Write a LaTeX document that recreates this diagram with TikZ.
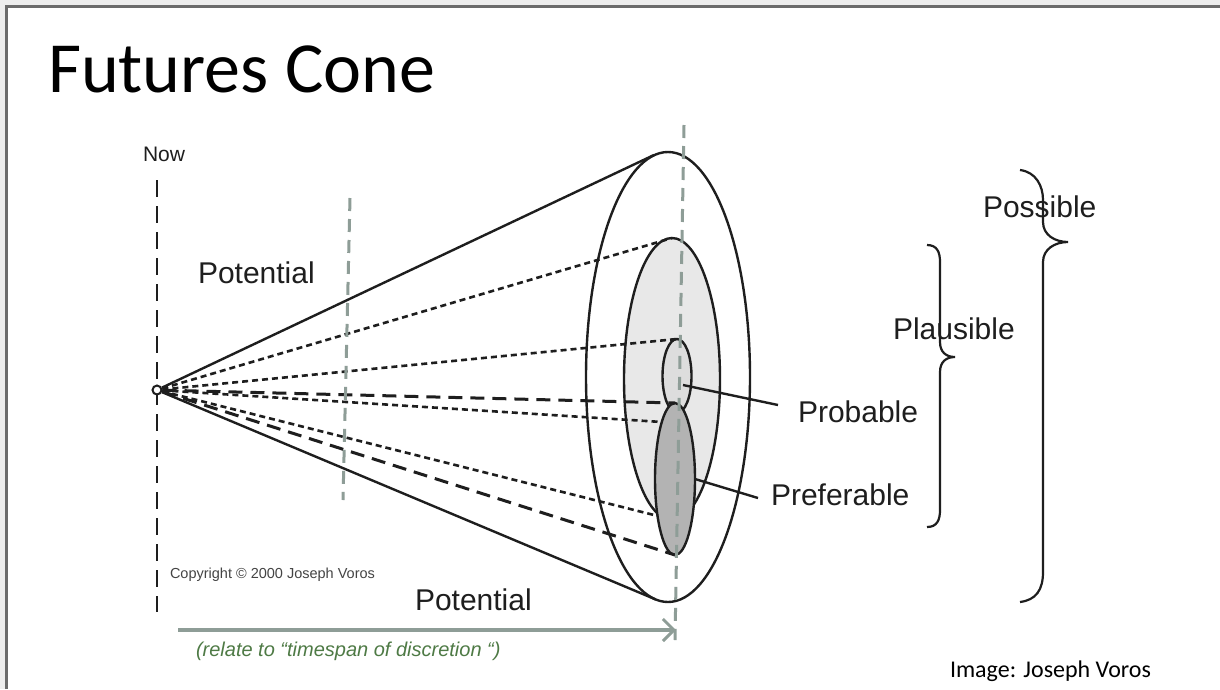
\documentclass[tikz,border=0pt]{standalone}
\usepackage{fontspec}
\setmainfont{Liberation Sans}
\newfontfamily\titlefont{Carlito}
\usetikzlibrary{shapes.geometric,arrows.meta}
\definecolor{frameline}{HTML}{6B6B6B}
\definecolor{outside}{HTML}{EDEDED}
\definecolor{guide}{HTML}{8E9D97}
\definecolor{plausfill}{HTML}{E8E8E8}
\definecolor{probfill}{HTML}{DDDDDD}
\definecolor{preffill}{HTML}{B3B3B3}
\definecolor{notegreen}{HTML}{4E7A45}
\definecolor{ink}{HTML}{1E1E1E}
\definecolor{copyink}{HTML}{444444}
\begin{document}
\begin{tikzpicture}[x=1pt,y=-1pt,
  solidline/.style={draw=ink,line width=2.4pt},
  shortdash/.style={draw=ink,line width=2.6pt,dash pattern=on 6pt off 4pt},
  longdash/.style={draw=ink,line width=3pt,dash pattern=on 14pt off 8pt},
  nowline/.style={draw=ink,line width=2.6pt,dash pattern=on 17pt off 9pt},
  guideline/.style={draw=guide,line width=3pt,dash pattern=on 13pt off 8pt},
  conering/.style={ellipse,draw=ink,line width=2.4pt,inner sep=0pt,outer sep=0pt},
  lbl/.style={inner sep=0pt,outer sep=0pt,anchor=base west,font=\fontsize{30}{36}\selectfont,text=ink},
  bracepath/.style={draw=ink,line width=2.2pt},
]
\useasboundingbox (0,0) rectangle (1220,689);
\fill[outside] (0,0) rectangle (1220,689);
\fill[white] (7,7) rectangle (1220,689);
\draw[frameline,line width=2.5pt] (6.5,689) -- (6.5,6.5) -- (1220,6.5);

% title
\node[anchor=base west,inner sep=0pt,outer sep=0pt] (title) at (48,92) {\titlefont\fontsize{72}{80}\selectfont Futures Cone};

% Now line
\coordinate (nowTop) at (157,180);
\coordinate (nowBot) at (157,612);
\draw[nowline] (nowTop) -- (nowBot);

% ellipses
\node[conering,minimum width=164pt,minimum height=450pt] (outer) at (668,377) {};
\node[conering,fill=plausfill,minimum width=96pt,minimum height=282pt] (plaus) at (672,379) {};
\node[conering,fill=probfill,minimum width=29pt,minimum height=74pt] (prob) at (677,376) {};
\node[conering,fill=preffill,minimum width=40pt,minimum height=152pt] (pref) at (675,479) {};

% apex
\node[circle,draw=ink,fill=white,line width=2pt,minimum size=9pt,inner sep=0pt] (apex) at (157,390) {};

% cone lines
\coordinate (tanTop) at (654,155);
\coordinate (tanBot) at (655.6,599.4);
\coordinate (prefLeft) at (662,422);
\coordinate (prefLow) at (658,516);
\draw[solidline] (apex) -- (tanTop);
\draw[solidline] (apex) -- (tanBot);
\draw[shortdash] (apex) -- (plaus.north);
\draw[shortdash] (apex) -- (prob.north);
\draw[longdash] (apex) -- (pref.north);
\draw[shortdash] (apex) -- (prefLeft);
\draw[shortdash] (apex) -- (prefLow);
\draw[longdash] (apex) -- (pref.south);

% guide lines
\coordinate (g1Top) at (350,198);
\coordinate (g1Bot) at (343,500);
\coordinate (g2Top) at (684,125);
\coordinate (g2Bot) at (675,640);
\draw[guideline] (g1Top) -- (g1Bot);
\draw[guideline] (g2Top) -- (g2Bot);

% time arrow
\coordinate (arrStart) at (178,630);
\coordinate (arrEnd) at (676,630);
\draw[draw=guide,line width=4pt,-{Straight Barb[length=11pt,width=22pt,line width=3pt]}] (arrStart) -- (arrEnd);

% labels
\node[lbl,font=\fontsize{21}{25}\selectfont] (now) at (143,161) {Now};
\node[lbl] (pot1) at (198,283) {Potential};
\node[lbl] (pos) at (983,217) {Possible};
\node[lbl] (pla) at (893,339) {Plausible};
\node[lbl] (pro) at (798,422) {Probable};
\node[lbl] (pre) at (771,505) {Preferable};
\node[lbl] (pot2) at (415,610) {Potential};
\node[lbl,font=\fontsize{14.5}{17}\selectfont,text=copyink] (copy) at (170,578) {Copyright © 2000 Joseph Voros};
\node[lbl,font=\fontsize{20}{24}\selectfont\itshape,text=notegreen] (note) at (196,656) {(relate to “timespan of discretion “)};
\node[lbl,font=\titlefont\fontsize{24}{28}\selectfont,text=black] (credit) at (950,677) {Image: Joseph Voros};

% leaders
\coordinate (probDot) at (683,385);
\coordinate (probEnd) at (778,405);
\coordinate (prefEnd) at (758,498);
\draw[solidline] (probDot) -- (probEnd);
\draw[solidline] (pref.east) -- (prefEnd);

% braces
\draw[bracepath] (927,245) .. controls (937,245) and (940,252) .. (940,262)
  -- (940,342) .. controls (940,352) and (946,357) .. (955,357)
  .. controls (946,357) and (940,362) .. (940,372)
  -- (940,510) .. controls (940,520) and (937,527) .. (927,527);
\draw[bracepath] (1020,170) .. controls (1036,172) and (1043,186) .. (1043,200)
  -- (1043,222) .. controls (1043,235) and (1055,242) .. (1068,242)
  .. controls (1055,242) and (1043,249) .. (1043,262)
  -- (1043,572) .. controls (1043,590) and (1036,600) .. (1020,602);
\end{tikzpicture}
\end{document}
